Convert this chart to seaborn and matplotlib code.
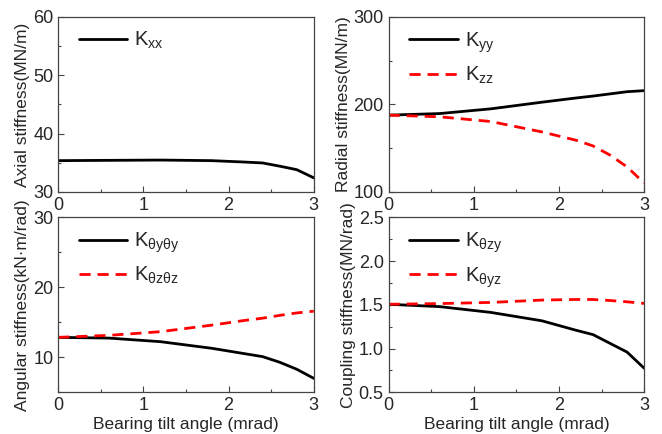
import numpy as np
import pandas as pd
import matplotlib
matplotlib.use("Agg")
import matplotlib.pyplot as plt
from matplotlib.ticker import MultipleLocator
import seaborn as sns

# Data
x = [0, 0.6, 1.2, 1.8, 2.2, 2.4, 2.6, 2.8, 3.0]
kxx = [35.35, 35.4, 35.45, 35.35, 35.1, 34.95, 34.4, 33.8, 32.4]
kyy = [187.7, 189.5, 194.9, 202.5, 207.3, 209.5, 212.0, 214.5, 215.7]
kzz = [187.7, 185.8, 180.4, 168.5, 159.0, 152.5, 142.0, 128.5, 110.0]
kty = [12.86, 12.75, 12.24, 11.3, 10.5, 10.1, 9.3, 8.3, 7.0]
ktz = [12.86, 13.15, 13.67, 14.6, 15.3, 15.6, 16.0, 16.35, 16.6]
kzy = [1.507, 1.48, 1.414, 1.318, 1.21, 1.16, 1.06, 0.96, 0.776]
kyz = [1.507, 1.515, 1.528, 1.555, 1.562, 1.562, 1.55, 1.535, 1.517]

xlabel = "Bearing tilt angle (mrad)"

sns.set_style("ticks")
plt.rcParams["font.family"] = ["Liberation Sans", "DejaVu Sans"]
plt.rcParams["mathtext.fontset"] = "custom"
plt.rcParams["mathtext.rm"] = "Liberation Sans"
plt.rcParams["mathtext.it"] = "Liberation Sans"
plt.rcParams["axes.edgecolor"] = "#444444"

fig = plt.figure(figsize=(6.62, 4.34), dpi=100)
L1, L2, W = 0.088, 0.587, 0.386
B1, B2, H = 0.558, 0.096, 0.403
axes = [fig.add_axes([L1, B1, W, H]), fig.add_axes([L2, B1, W, H]),
        fig.add_axes([L1, B2, W, H]), fig.add_axes([L2, B2, W, H])]

specs = [
    ([(kxx, r"$\mathrm{K_{xx}}$")], "Axial stiffness(MN/m)", (30, 60), 10),
    ([(kyy, r"$\mathrm{K_{yy}}$"), (kzz, r"$\mathrm{K_{zz}}$")], "Radial stiffness(MN/m)", (100, 300), 100),
    ([(kty, r"$\mathrm{K_{\theta y\theta y}}$"), (ktz, r"$\mathrm{K_{\theta z\theta z}}$")], "Angular stiffness(kN·m/rad)", (5, 30), 10),
    ([(kzy, r"$\mathrm{K_{\theta zy}}$"), (kyz, r"$\mathrm{K_{\theta yz}}$")], "Coupling stiffness(MN/rad)", (0.5, 2.5), 0.5),
]

for i, (ax, (series, ylab, ylim, major)) in enumerate(zip(axes, specs)):
    for j, (vals, lab) in enumerate(series):
        df = pd.DataFrame({"x": x, "y": vals})
        if j == 0:
            sns.lineplot(data=df, x="x", y="y", ax=ax, color="black", lw=2.0, label=lab)
        else:
            sns.lineplot(data=df, x="x", y="y", ax=ax, color="#ff0000", lw=2.0,
                         dashes=False, label=lab)
            ax.lines[-1].set_dashes([4, 2.5])
    ax.set_xlim(0, 3)
    ax.set_ylim(*ylim)
    ax.xaxis.set_major_locator(MultipleLocator(1))
    ax.xaxis.set_minor_locator(MultipleLocator(0.5))
    if i == 2:
        ax.set_yticks([10, 20, 30])
        ax.yaxis.set_minor_locator(MultipleLocator(5))
    else:
        ax.yaxis.set_major_locator(MultipleLocator(major))
        ax.yaxis.set_minor_locator(MultipleLocator(major / 2))
    if i == 3:
        ax.set_yticklabels([f"{v:.1f}" for v in ax.get_yticks()])
    ax.tick_params(which="both", direction="in", labelsize=13, color="#444444")
    ax.tick_params(which="major", length=4, width=0.8)
    ax.tick_params(which="minor", length=2.5, width=0.8)
    ax.set_ylabel(ylab, fontsize=12.5, labelpad=2)
    ax.set_xlabel(xlabel if i >= 2 else "", fontsize=12.5, labelpad=2)
    for s in ax.spines.values():
        s.set_linewidth(0.9)
    ax.legend(loc="upper left", bbox_to_anchor=(0.03, 1.0), frameon=False,
              fontsize=14.5, handlelength=2.4, borderaxespad=0.25,
              labelspacing=0.5, handletextpad=0.35)

fig.savefig("out.png", dpi=100)
